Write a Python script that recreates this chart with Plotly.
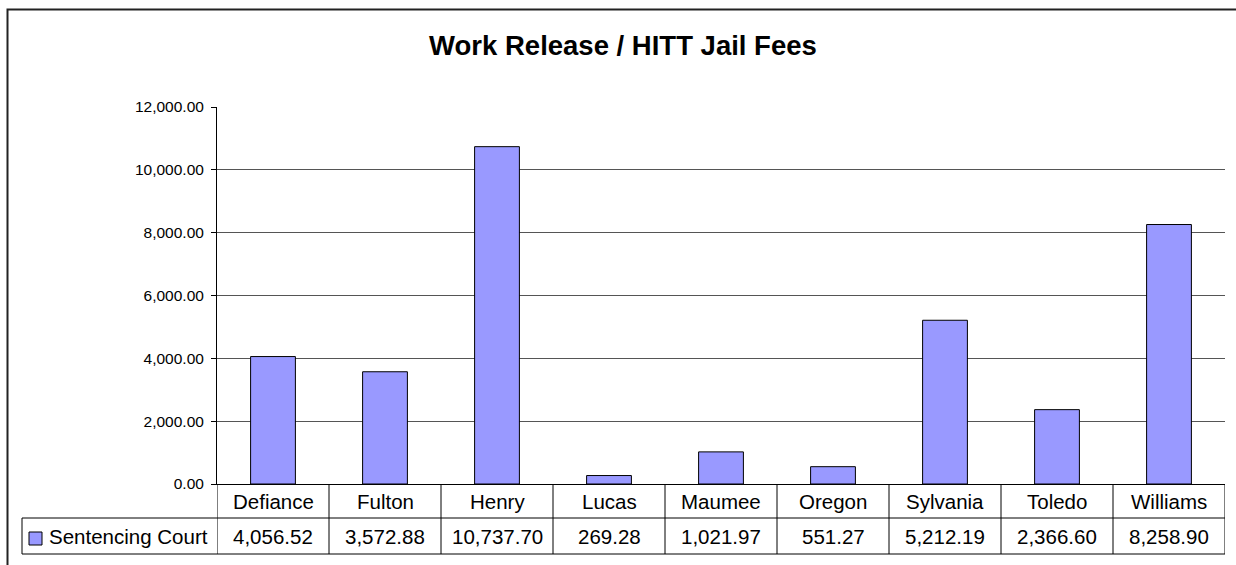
import plotly.graph_objects as go

categories = ["Defiance", "Fulton", "Henry", "Lucas", "Maumee", "Oregon", "Sylvania", "Toledo", "Williams"]
values = [4056.52, 3572.88, 10737.70, 269.28, 1021.97, 551.27, 5212.19, 2366.60, 8258.90]
series_name = "Sentencing Court"
title_text = "Work Release / HITT Jail Fees"

W, H = 1236, 565
L, R, T, B = 217, 1225, 107, 484
pw, ph = R - L, B - T

def px(x):
    return (x - L) / pw

def py(y):
    return (B - y) / ph

FONT = "Liberation Sans, Arial, sans-serif"
BAR = "#9999FF"
LINE = "#000000"

fig = go.Figure()
fig.add_trace(go.Bar(
    x=list(range(len(categories))), y=values, name=series_name,
    marker=dict(color=BAR, line=dict(color="black", width=1)),
    width=0.4, showlegend=False, hoverinfo="x+y",
))

shapes = []
n = len(categories)
row1_top, row1_bot, row2_bot = 484, 518, 554
for i in range(n + 1):
    shapes.append(dict(type="line", xref="x", yref="paper",
                       x0=i - 0.5, x1=i - 0.5, y0=0, y1=py(row2_bot),
                       line=dict(color=LINE, width=1)))
shapes.append(dict(type="line", xref="paper", yref="paper",
                   x0=px(22), x1=1, y0=py(row1_bot), y1=py(row1_bot),
                   line=dict(color=LINE, width=1)))
shapes.append(dict(type="line", xref="paper", yref="paper",
                   x0=px(22), x1=1, y0=py(row2_bot), y1=py(row2_bot),
                   line=dict(color=LINE, width=1)))
shapes.append(dict(type="line", xref="paper", yref="paper",
                   x0=px(22), x1=px(22), y0=py(row1_bot), y1=py(row2_bot),
                   line=dict(color=LINE, width=1)))
shapes.append(dict(type="rect", xref="paper", yref="paper",
                   x0=px(29), x1=px(42), y0=py(545), y1=py(532),
                   fillcolor=BAR, line=dict(color="black", width=1)))
shapes.append(dict(type="rect", xref="paper", yref="paper",
                   x0=px(7.5), x1=px(1245), y0=py(575), y1=py(9.5),
                   line=dict(color="#222222", width=2), layer="below"))

annotations = []
for i, (c, v) in enumerate(zip(categories, values)):
    annotations.append(dict(x=i, y=py((row1_top + row1_bot) / 2), xref="x", yref="paper",
                            text=c, showarrow=False, font=dict(family=FONT, size=20.5, color="black"),
                            xanchor="center", yanchor="middle"))
    annotations.append(dict(x=i, y=py((row1_bot + row2_bot) / 2), xref="x", yref="paper",
                            text=f"{v:,.2f}", showarrow=False, font=dict(family=FONT, size=20.5, color="black"),
                            xanchor="center", yanchor="middle"))
annotations.append(dict(x=px(47), y=py((row1_bot + row2_bot) / 2), xref="paper", yref="paper",
                        text=series_name, showarrow=False, font=dict(family=FONT, size=20.5, color="black"),
                        xanchor="left", yanchor="middle"))

fig.update_layout(
    width=W, height=H,
    margin=dict(l=L, r=W - R, t=T, b=H - B, pad=0),
    paper_bgcolor="white", plot_bgcolor="white",
    title=dict(text=f"<b>{title_text}</b>", x=0.504, xref="container", xanchor="center",
               y=1 - 45 / H, yref="container", yanchor="middle",
               font=dict(family=FONT, size=27.5, color="black")),
    xaxis=dict(range=[-0.5, n - 0.5], showticklabels=False, ticks="", showgrid=False,
               showline=True, linecolor="black", linewidth=1, zeroline=False, fixedrange=True),
    yaxis=dict(range=[0, 12000], dtick=2000, tickformat=",.2f", ticks="outside", ticklen=5,
               tickcolor="black", showline=True, linecolor="black", linewidth=1,
               showgrid=True, gridcolor="#555555", gridwidth=1, zeroline=False,
               ticklabelstandoff=4,
               tickfont=dict(family=FONT, size=15.5, color="black"), fixedrange=True),
    shapes=shapes, annotations=annotations, bargap=0.6, showlegend=False,
)

fig.write_html("out.html", config={"displayModeBar": False},
               post_script="document.body.style.margin='0';document.body.style.overflow='hidden';")
